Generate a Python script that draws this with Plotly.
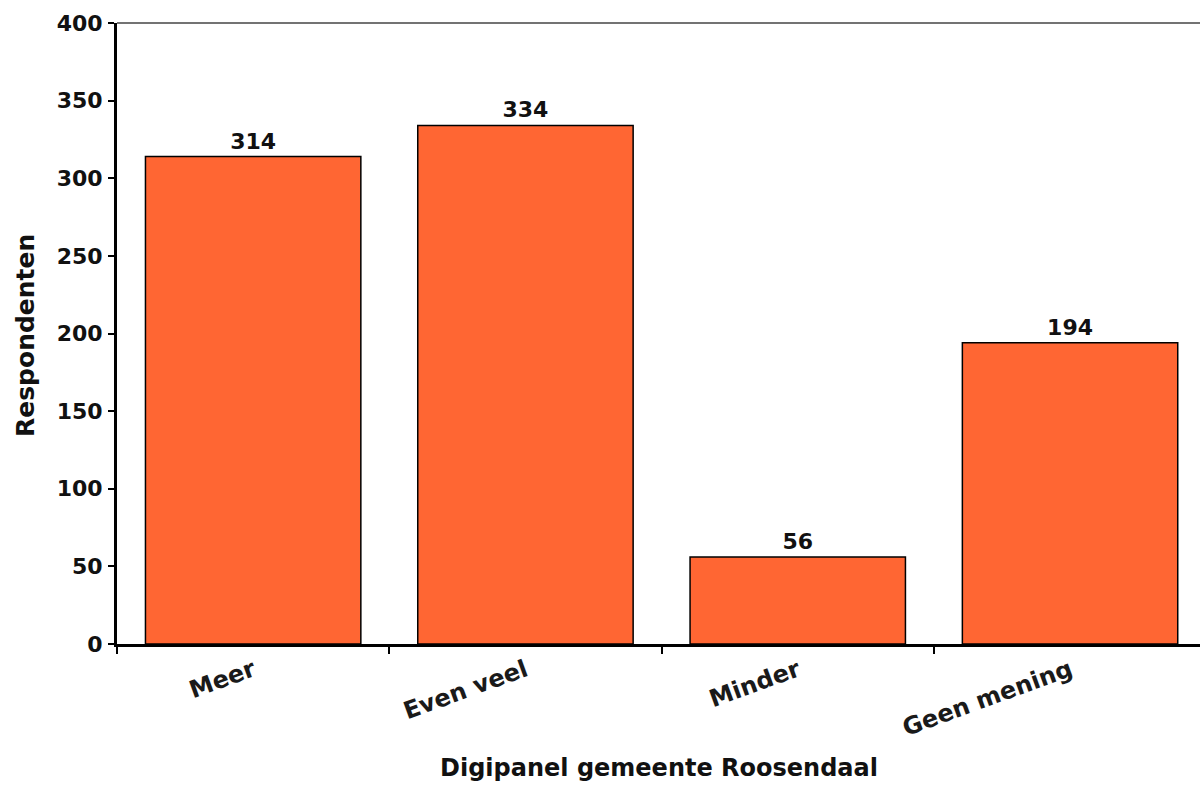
import plotly.graph_objects as go

categories = ["Meer", "Even veel", "Minder", "Geen mening"]
values = [314, 334, 56, 194]
y_ticks = [0, 50, 100, 150, 200, 250, 300, 350, 400]

FONT = "DejaVu Sans"

# plot geometry (pixels)
L, T, B = 117, 23, 141
W, H = 1200, 785
CAT_W = 272.3
plot_w = W - L
plot_h = H - T - B
x_end = 3.5 - (L + 4 * CAT_W - W) / CAT_W

fig = go.Figure()
fig.add_trace(go.Bar(
    x=categories,
    y=values,
    marker=dict(color="#FF6633", line=dict(color="#000000", width=1.5)),
    text=[str(v) for v in values],
    textposition="outside",
    textfont=dict(family=FONT, size=22, color="#111111", weight="bold"),
    cliponaxis=False,
    hoverinfo="x+y",
))

fig.update_layout(
    width=W,
    height=H,
    margin=dict(l=L, r=0, t=T, b=B, autoexpand=False),
    paper_bgcolor="white",
    plot_bgcolor="white",
    bargap=0.209,
    showlegend=False,
    font=dict(family=FONT, color="#111111"),
    xaxis=dict(
        type="category",
        range=[-0.5, x_end],
        showline=True,
        linecolor="#000000",
        linewidth=3,
        ticks="outside",
        tickson="boundaries",
        ticklen=7,
        tickwidth=1.5,
        tickcolor="#000000",
        tickangle=-20,
        tickfont=dict(family=FONT, size=24, color="#1a1a1a", weight=600),
        showgrid=False,
        zeroline=False,
        automargin=False,
    ),
    yaxis=dict(
        range=[0, 400],
        tickvals=y_ticks,
        showline=True,
        linecolor="#000000",
        linewidth=3,
        ticks="outside",
        ticklen=6,
        tickwidth=1.5,
        tickcolor="#000000",
        ticklabelstandoff=1,
        tickfont=dict(family=FONT, size=22, color="#111111", weight="bold"),
        showgrid=False,
        zeroline=False,
        automargin=False,
    ),
    shapes=[dict(
        type="line", xref="paper", yref="paper",
        x0=0, x1=1, y0=1, y1=1,
        line=dict(color="#444444", width=1.5),
    )],
    annotations=[
        dict(
            text="Digipanel gemeente Roosendaal",
            xref="paper", yref="paper",
            x=(659 - L) / plot_w, y=(H - B - 768) / plot_h,
            xanchor="center", yanchor="middle",
            showarrow=False,
            font=dict(family=FONT, size=24, color="#111111", weight=600),
        ),
        dict(
            text="Respondenten",
            xref="paper", yref="paper",
            x=(25 - L) / plot_w, y=(H - B - 336) / plot_h,
            xanchor="center", yanchor="middle",
            textangle=-90,
            showarrow=False,
            font=dict(family=FONT, size=25, color="#111111", weight=600),
        ),
    ],
)

fig.write_html(
    "out.html",
    config={"displayModeBar": False},
    post_script="document.body.style.margin='0';",
)
